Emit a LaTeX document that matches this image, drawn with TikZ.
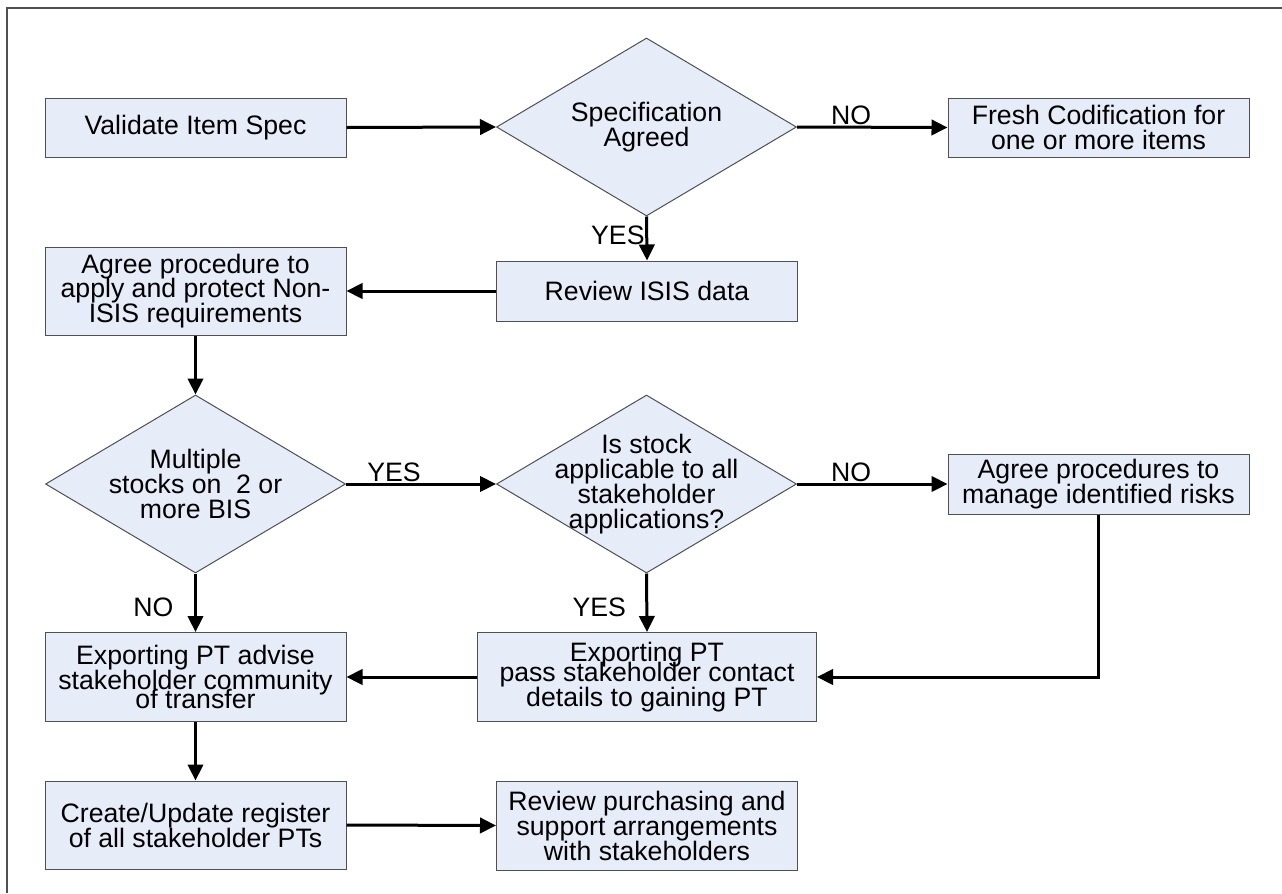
\documentclass[tikz,border=0pt]{standalone}
\usepackage{fontspec}
\setmainfont{Liberation Sans}
\usepackage{xcolor}
\usepackage{tikz}
\usetikzlibrary{
    positioning,
    arrows.meta,
    shapes.geometric
}
\definecolor{boxfill}{RGB}{230,236,248}
\definecolor{boxline}{RGB}{80,80,80}
\tikzset{
    block/.style={
        rectangle, draw=boxline, line width=0.75pt, fill=boxfill,
        minimum width=225.75pt, minimum height=44.25pt,
        inner sep=2pt, align=center
    },
    decision/.style={
        diamond, draw=boxline, line width=0.75pt, fill=boxfill,
        minimum width=225pt, minimum height=133.5pt,
        inner sep=-30pt, align=center
    },
    arrow/.style={
        -{Triangle[length=12pt,width=11.5pt]}, line width=2.25pt, draw=black
    },
    answer/.style={
        inner sep=0.5pt
    }
}

\begin{document}
\begin{tikzpicture}[x=0.75pt, y=-0.75pt, font=\fontsize{20pt}{18.75pt}\selectfont]
    \useasboundingbox (0,0) rectangle (1282,893);
    \draw[boxline, line width=0.9pt] (7,893) |- (1282,8);

    % top row
    \node[block] (validate) at (195.5,127.5) {Validate Item Spec};
    \node[decision] (spec) at (646.5,127) {Specification\\Agreed};
    \node[block] (fresh) at (1098.5,127.5) {Fresh Codification for\\one or more items};

    \node[block, minimum height=45pt] (review) at (647,291) {Review ISIS data};
    \node[block, minimum height=66pt] (agree) at (195.5,291)
        {Agree procedure to\\[-0.5pt]apply and protect Non-\\[-0.5pt]ISIS requirements};

    % decisions on stock
    \node[decision] (multi) at (195.5,484) {Multiple\\stocks on~ 2 or\\more BIS};
    \node[decision] (applic) at (646.5,484)
        {Is stock\\applicable to all\\stakeholder\\applications?};
    \node[block, minimum height=45pt] (manage) at (1098.5,484)
        {Agree procedures to\\manage identified risks};

    \node[block, minimum height=66.75pt] (advise) at (195.5,677)
        {Exporting PT advise\\stakeholder community\\[-4pt]of transfer};
    \node[block, minimum width=254.25pt, minimum height=66.75pt] (pass) at (647,677)
        {Exporting PT\\[-3.5pt]pass stakeholder contact\\details to gaining PT};

    \node[block, minimum height=66pt] (register) at (195.5,825)
        {Create/Update register\\of all stakeholder PTs};
    \node[block, minimum height=66.75pt] (purchase) at (647,825.5)
        {Review purchasing and\\support arrangements\\with stakeholders};

    \draw[arrow] (validate.east) -- (spec.west);
    \draw[arrow] (spec.east) -- node[answer, above, pos=0.36] (specno) {NO} (fresh.west);
    \draw[arrow] (spec.south) -- node[answer, left, pos=0.42] (specyes) {YES} (review.north);
    \draw[arrow] (review.west) -- (agree.east);
    \draw[arrow] (agree.south) -- (multi.north);
    \draw[arrow] (multi.east) -- node[answer, above, pos=0.32] (multiyes) {YES} (applic.west);
    \draw[arrow] (applic.east) -- node[answer, above, pos=0.36] (applicno) {NO} (manage.west);
    \draw[arrow] (multi.south) -- node[answer, left=15pt, pos=0.57] (multino) {NO} (advise.north);
    \draw[arrow] (applic.south) -- node[answer, left=14pt, pos=0.57] (applicyes) {YES} (pass.north);
    \draw[arrow] (manage.south) |- (pass.east);
    \draw[arrow] (pass.west) -- (advise.east);
    \draw[arrow] (advise.south) -- (register.north);
    \draw[arrow] (register.east) -- (purchase.west);
\end{tikzpicture}
\end{document}
